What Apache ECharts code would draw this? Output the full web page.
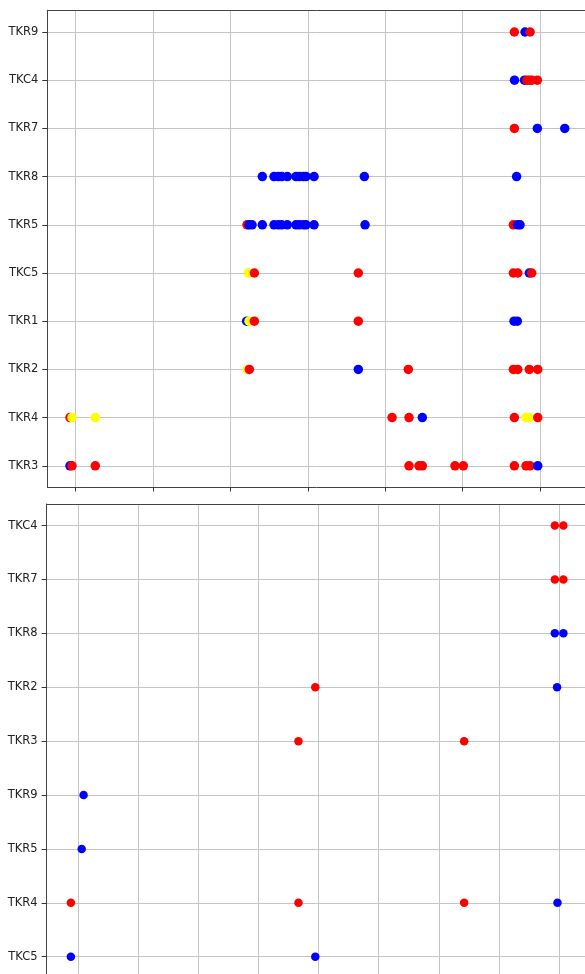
<!DOCTYPE html>
<html>
<head>
<meta charset="utf-8">
<script src="https://cdn.jsdelivr.net/npm/echarts@6/dist/echarts.min.js"></script>
<style>
  html, body { margin: 0; padding: 0; background: #fff; }
  #chart { width: 585px; height: 974px; }
</style>
</head>
<body>
<div id="chart"></div>
<script>
// rows, bottom to top (matplotlib categorical order)
var topRows = ['TKR3', 'TKR4', 'TKR2', 'TKR1', 'TKC5', 'TKR5', 'TKR8', 'TKR7', 'TKC4', 'TKR9'];
var botRows = ['TKC5', 'TKR4', 'TKR5', 'TKR9', 'TKR3', 'TKR2', 'TKR8', 'TKR7', 'TKC4'];

var topTicks = [0, 10, 20, 30, 40, 50, 60];
var botTicks = [0, 10, 20, 30, 40, 50, 60, 70, 80];

// upper panel
var topRed = [
  [56.67, 'TKR9'], [58.70, 'TKR9'],
  [58.31, 'TKC4'], [58.63, 'TKC4'], [58.95, 'TKC4'], [59.64, 'TKC4'],
  [56.67, 'TKR7'],
  [22.13, 'TKR5'], [56.54, 'TKR5'],
  [23.08, 'TKC5'], [36.51, 'TKC5'], [56.54, 'TKC5'], [57.11, 'TKC5'], [58.91, 'TKC5'],
  [23.08, 'TKR1'], [36.51, 'TKR1'],
  [22.43, 'TKR2'], [42.97, 'TKR2'], [56.54, 'TKR2'], [57.11, 'TKR2'], [58.60, 'TKR2'], [59.69, 'TKR2'],
  [-0.74, 'TKR4'], [40.87, 'TKR4'], [43.06, 'TKR4'], [56.67, 'TKR4'], [59.69, 'TKR4'],
  [-0.48, 'TKR3'], [2.53, 'TKR3'], [43.06, 'TKR3'], [44.35, 'TKR3'], [44.78, 'TKR3'],
  [49.00, 'TKR3'], [50.08, 'TKR3'], [56.67, 'TKR3'], [58.18, 'TKR3'], [58.70, 'TKR3']
];
var topBlue = [
  [58.05, 'TKR9'],
  [56.69, 'TKC4'], [57.98, 'TKC4'],
  [59.64, 'TKR7'], [63.18, 'TKR7'],
  [24.11, 'TKR8'], [25.62, 'TKR8'], [26.18, 'TKR8'], [26.61, 'TKR8'], [27.34, 'TKR8'], [28.46, 'TKR8'],
  [28.89, 'TKR8'], [29.41, 'TKR8'], [29.75, 'TKR8'], [30.79, 'TKR8'], [37.29, 'TKR8'], [56.96, 'TKR8'],
  [22.39, 'TKR5'], [22.78, 'TKR5'], [24.11, 'TKR5'], [25.62, 'TKR5'], [26.18, 'TKR5'], [26.61, 'TKR5'],
  [27.34, 'TKR5'], [28.46, 'TKR5'], [28.89, 'TKR5'], [29.41, 'TKR5'], [29.75, 'TKR5'], [30.79, 'TKR5'],
  [37.38, 'TKR5'], [57.08, 'TKR5'], [57.40, 'TKR5'],
  [58.60, 'TKC5'],
  [22.09, 'TKR1'], [56.63, 'TKR1'], [57.05, 'TKR1'],
  [36.51, 'TKR2'],
  [44.78, 'TKR4'],
  [-0.74, 'TKR3'], [59.69, 'TKR3']
];
var topYellow = [
  [22.30, 'TKC5'],
  [22.39, 'TKR1'],
  [22.17, 'TKR2'],
  [-0.48, 'TKR4'], [2.53, 'TKR4'], [58.18, 'TKR4'], [58.60, 'TKR4']
];

// lower panel
var botRed = [
  [79.32, 'TKC4'], [80.74, 'TKC4'],
  [79.32, 'TKR7'], [80.74, 'TKR7'],
  [39.44, 'TKR2'],
  [36.64, 'TKR3'], [64.22, 'TKR3'],
  [-1.25, 'TKR4'], [36.64, 'TKR4'], [64.22, 'TKR4']
];
var botBlue = [
  [79.32, 'TKR8'], [80.74, 'TKR8'],
  [79.69, 'TKR2'],
  [0.87, 'TKR9'],
  [0.55, 'TKR5'],
  [79.76, 'TKR4'],
  [-1.25, 'TKC5'], [39.44, 'TKC5']
];

// merge colour groups, draw in x order (later points sit on top)
function buildPoints(rows, groups) {
  var pts = [];
  groups.forEach(function (g) {
    g.data.forEach(function (d) {
      pts.push({ x: d[0], y: rows.indexOf(d[1]), color: g.color });
    });
  });
  pts.sort(function (a, b) { return a.x - b.x; });
  return pts.map(function (p) {
    return { value: [p.x, p.y], itemStyle: { color: p.color, opacity: 1 } };
  });
}

var topData = buildPoints(topRows, [
  { data: topRed, color: '#ff0000' },
  { data: topBlue, color: '#0000ff' },
  { data: topYellow, color: '#ffff00' }
]);
var botData = buildPoints(botRows, [
  { data: botRed, color: '#ff0000' },
  { data: botBlue, color: '#0000ff' }
]);

function idx(n) {
  var a = [];
  for (var i = 0; i < n; i++) a.push(i);
  return a;
}

var gridLine = { show: true, lineStyle: { color: '#c4c4c4', width: 1 } };
var spine = { show: true, onZero: false, lineStyle: { color: '#444', width: 1 } };

function xAx(gi, min, max, ticks) {
  return {
    type: 'value',
    gridIndex: gi,
    position: 'bottom',
    min: min,
    max: max,
    axisLine: spine,
    axisTick: { show: true, length: 4, customValues: ticks, lineStyle: { color: '#333' } },
    axisLabel: { show: false, customValues: ticks },
    splitLine: gridLine
  };
}

// top spine only
function topSpine(gi) {
  return {
    type: 'value',
    gridIndex: gi,
    position: 'top',
    axisLine: spine,
    axisTick: { show: false },
    axisLabel: { show: false },
    splitLine: { show: false }
  };
}

function yAx(gi, rows, pad) {
  return {
    type: 'value',
    gridIndex: gi,
    position: 'left',
    min: -pad,
    max: rows.length - 1 + pad,
    axisLine: spine,
    axisTick: { show: true, length: 5, customValues: idx(rows.length), lineStyle: { color: '#333' } },
    axisLabel: {
      customValues: idx(rows.length),
      margin: 9,
      color: '#222',
      fontFamily: 'DejaVu Sans',
      fontSize: 11.5,
      formatter: function (v) { return rows[Math.round(v)]; }
    },
    splitLine: gridLine
  };
}

var myChart = echarts.init(document.getElementById('chart'));
var option = {
  animation: false,
  backgroundColor: '#fff',
  grid: [
    { left: 47.3, top: 10.3, right: -20, bottom: 486.5, outerBoundsMode: 'none' },
    { left: 46.6, top: 504, right: -20, bottom: -4.3, outerBoundsMode: 'none' }
  ],
  xAxis: [
    xAx(0, -3.67, 68.38, topTicks),
    xAx(1, -5.29, 87.67, botTicks),
    topSpine(0),
    topSpine(1)
  ],
  yAxis: [
    yAx(0, topRows, 0.45),
    yAx(1, botRows, 0.4)
  ],
  series: [
    {
      type: 'scatter',
      xAxisIndex: 0,
      yAxisIndex: 0,
      symbolSize: 9.5,
      data: topData
    },
    {
      type: 'scatter',
      xAxisIndex: 1,
      yAxisIndex: 1,
      symbolSize: 8.5,
      data: botData
    }
  ]
};
myChart.setOption(option);
</script>
</body>
</html>
